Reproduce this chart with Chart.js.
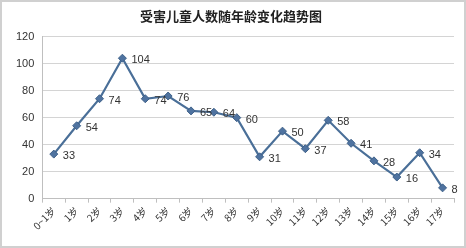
<!DOCTYPE html>
<html>
<head>
<meta charset="utf-8">
<script src="https://cdn.jsdelivr.net/npm/chart.js@4/dist/chart.umd.min.js"></script>
<style>
  html, body { margin: 0; padding: 0; background: #fff; }
  #wrap { width: 462px; height: 244px; border: 2px solid #d0d0d0; position: relative; }
</style>
</head>
<body>
<div id="wrap"><canvas id="myLineChart" width="462" height="244"></canvas></div>
<script>
const ages = ['0~1岁', '1岁', '2岁', '3岁', '4岁', '5岁', '6岁', '7岁', '8岁', '9岁',
              '10岁', '11岁', '12岁', '13岁', '14岁', '15岁', '16岁', '17岁'];
const victims = [33, 54, 74, 104, 74, 76, 65, 64, 60, 31, 50, 37, 58, 41, 28, 16, 34, 8];
const yTicks = [0, 20, 40, 60, 80, 100, 120];

// draws the value to the right of each point
const valueLabels = {
    id: 'valueLabels',
    afterDatasetsDraw(chart) {
        const ctx = chart.ctx;
        const meta = chart.getDatasetMeta(0);
        ctx.save();
        ctx.font = '11px "Liberation Sans", Arial, sans-serif';
        ctx.fillStyle = '#333';
        ctx.textAlign = 'left';
        ctx.textBaseline = 'middle';
        meta.data.forEach((pt, i) => {
            ctx.fillText(String(victims[i]), pt.x + 9, pt.y + 2);
        });
        ctx.restore();
    }
};

const ctx = document.getElementById('myLineChart');
new Chart(ctx, {
    type: 'line',
    data: {
        labels: ages,
        datasets: [{
            label: '受害儿童人数',
            data: victims,
            borderColor: '#4a6f98',
            borderWidth: 2.2,
            backgroundColor: '#4f73a0',
            pointStyle: 'rectRot',
            pointRadius: 4,
            pointBorderWidth: 1,
            pointBorderColor: '#3e6088',
            tension: 0
        }]
    },
    plugins: [valueLabels],
    options: {
        responsive: false,
        animation: false,
        layout: { padding: { left: 6, right: 10, top: 0, bottom: 12 } },
        plugins: {
            legend: { display: false },
            tooltip: { enabled: false },
            title: {
                display: true,
                text: '受害儿童人数随年龄变化趋势图',
                color: '#222',
                font: { family: '"Noto Sans CJK SC", sans-serif', size: 13, weight: 'bold' },
                padding: { top: 6, bottom: 13 }
            }
        },
        scales: {
            y: {
                min: 0,
                max: 120,
                afterBuildTicks: axis => { axis.ticks = yTicks.map(v => ({ value: v })); },
                ticks: {
                    color: '#333',
                    padding: 8,
                    font: { family: '"Liberation Sans", Arial, sans-serif', size: 11 }
                },
                grid: { color: '#d4d4d4', drawTicks: false, lineWidth: 1 },
                border: { display: true, color: '#bfbfbf' }
            },
            x: {
                offset: true,
                ticks: {
                    color: '#333',
                    minRotation: 45,
                    maxRotation: 45,
                    padding: 2,
                    font: { family: '"Noto Sans CJK SC", sans-serif', size: 10 }
                },
                grid: { display: true, drawOnChartArea: false, drawTicks: true, tickLength: 4, offset: true, color: '#bfbfbf' },
                border: { display: true, color: '#bfbfbf' }
            }
        }
    }
});
</script>
</body>
</html>
